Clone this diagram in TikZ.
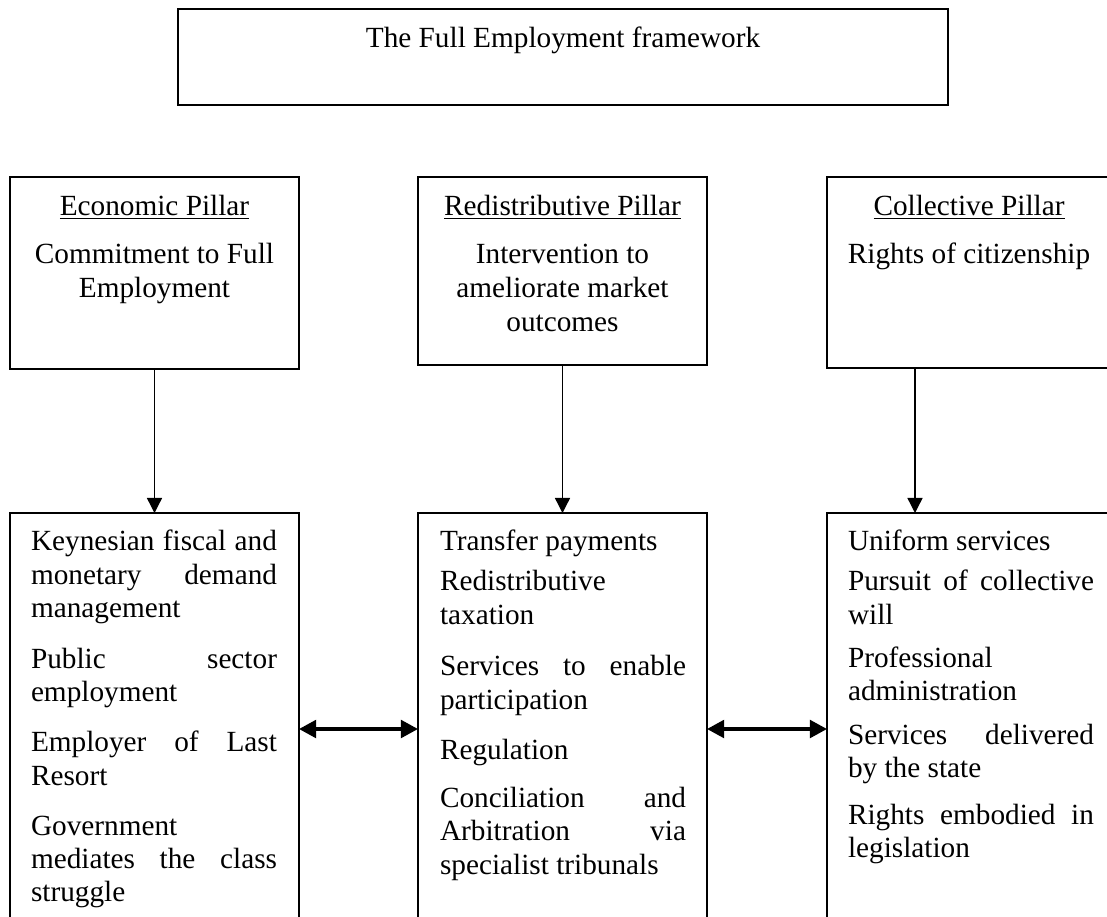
\documentclass[tikz,border=0pt]{standalone}
\usepackage{fontspec}
\setmainfont{Liberation Serif}
\usetikzlibrary{arrows.meta}
\newlength\jw
\setlength\jw{100.86pt}
\newcommand\jl[1]{\makebox[\jw][s]{#1}}
\newcommand\pxu{0.41pt}
\begin{document}
\begin{tikzpicture}[x=0.41pt, y=-0.41pt,
  font=\fontsize{12pt}{13.74pt}\selectfont,
  box/.style={draw, line width=0.6pt, inner sep=0pt, outer sep=0pt, minimum width=#1*\pxu},
  txt/.style={anchor=base west, inner sep=0pt, outer sep=0pt},
  ctxt/.style={anchor=base, inner sep=0pt, outer sep=0pt},
  down/.style={line width=0.55pt, -{Triangle[length=6.2pt, width=6.2pt]}},
  both/.style={line width=1.45pt, {Triangle[length=7pt, width=7.2pt]}-{Triangle[length=7pt, width=7.2pt]}}
]
\useasboundingbox (0,0) rectangle (1107,917);
\clip (0,0) rectangle (1107,917);

% title
\node[box=770, minimum height=96*\pxu] (title) at (563,57) {};
\node[ctxt] (titlet) at (563,47) {The Full Employment framework};

% pillars
\node[box=289, minimum height=192*\pxu] (ecoP) at (154.5,273) {};
\node[box=289, minimum height=188*\pxu] (redP) at (562.5,271) {};
\node[box=289, minimum height=191*\pxu] (colP) at (971.5,272.5) {};

\node[ctxt] (e1) at (154.5,215) {\underline{Economic Pillar}};
\node[ctxt] (e2) at (154.5,263) {Commitment to Full};
\node[ctxt] (e3) at (154.5,297) {Employment};

\node[ctxt] (r1) at (562.5,215) {\underline{Redistributive Pillar}};
\node[ctxt] (r2) at (562.5,263) {Intervention to};
\node[ctxt] (r3) at (562.5,297) {ameliorate market};
\node[ctxt] (r4) at (562.5,331) {outcomes};

\node[ctxt] (c1) at (969,215) {\underline{Collective Pillar}};
\node[ctxt] (c2) at (969,263) {Rights of citizenship};

% lower boxes
\node[box=289, minimum height=432*\pxu] (lowL) at (154.5,729) {};
\node[box=289, minimum height=432*\pxu] (lowM) at (562.5,729) {};
\node[box=289, minimum height=432*\pxu] (lowR) at (971.5,729) {};

\node[txt] (a1) at (31,550) {\jl{Keynesian fiscal and}};
\node[txt] (a2) at (31,584) {\jl{monetary demand}};
\node[txt] (a3) at (31,617) {management};
\node[txt] (a4) at (31,668) {\jl{Public sector}};
\node[txt] (a5) at (31,701) {employment};
\node[txt] (a6) at (31,751) {\jl{Employer of Last}};
\node[txt] (a7) at (31,785) {Resort};
\node[txt] (a8) at (31,835) {Government};
\node[txt] (a9) at (31,868) {\jl{mediates the class}};
\node[txt] (a10) at (31,901) {struggle};

\node[txt] (b1) at (440,550) {Transfer payments};
\node[txt] (b2) at (440,590) {Redistributive};
\node[txt] (b3) at (440,624) {taxation};
\node[txt] (b4) at (440,675) {\jl{Services to enable}};
\node[txt] (b5) at (440,709) {participation};
\node[txt] (b6) at (440,759) {Regulation};
\node[txt] (b7) at (440,807) {\jl{Conciliation and}};
\node[txt] (b8) at (440,840) {\jl{Arbitration via}};
\node[txt] (b9) at (440,874) {specialist tribunals};

\node[txt] (d1) at (848,550) {Uniform services};
\node[txt] (d2) at (848,590) {\jl{Pursuit of collective}};
\node[txt] (d3) at (848,624) {will};
\node[txt] (d4) at (848,667) {Professional};
\node[txt] (d5) at (848,700) {administration};
\node[txt] (d6) at (848,744) {\jl{Services delivered}};
\node[txt] (d7) at (848,777) {by the state};
\node[txt] (d8) at (848,824) {\jl{Rights embodied in}};
\node[txt] (d9) at (848,857) {legislation};

% connectors
\coordinate (colx) at (915,0);
\draw[down] (ecoP.south) -- (lowL.north);
\draw[down] (redP.south) -- (lowM.north);
\draw[down] (colP.south -| colx) -- (lowR.north -| colx);
\draw[both] (lowL.east) -- (lowM.west);
\draw[both] (lowM.east) -- (lowR.west);
\end{tikzpicture}
\end{document}
